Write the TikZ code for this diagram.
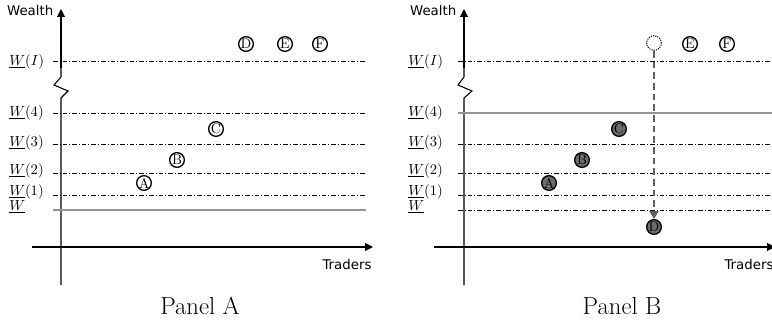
\documentclass[tikz,border=0pt]{standalone}
\usepackage{fontspec}
\newfontfamily\axisfont{DejaVu Sans}
\usetikzlibrary{arrows.meta}

\begin{document}
\begin{tikzpicture}[x=0.75pt, y=-0.75pt, >={Triangle[length=6pt,width=6pt]},
  axis/.style={line width=0.8pt},
  level/.style={line width=0.6pt, dash pattern=on 3.5pt off 1.5pt on 0.7pt off 1.5pt},
  floor/.style={line width=2.2pt, gray!85},
  trader/.style={circle, draw, line width=1pt, minimum size=11pt, inner sep=0pt,
    font=\fontsize{10.5}{12}\selectfont},
  broke/.style={trader, fill=gray!85!black},
  ghost/.style={trader, line width=0.8pt, dash pattern=on 0.8pt off 0.9pt},
  drop/.style={gray!75!black, line width=1pt, dash pattern=on 5pt off 3pt,
    -{Triangle[length=6pt,width=7pt]}},
  axlabel/.style={font=\axisfont},
  lvl/.style={anchor=west, inner sep=0pt, font=\fontsize{11}{13}\selectfont},
  caption/.style={font=\fontsize{18.5}{22}\selectfont}]

\useasboundingbox (0,0) rectangle (772,321);

% ---------- Panel A: axes ----------
\coordinate (aY0) at (61,285);
\coordinate (aY1) at (61,9);
\coordinate (aX0) at (32,247);
\coordinate (aX1) at (373,247);
\draw[axis] (aY0) -- (61,98) -- (68,91) -- (54,85) -- (61,77) -- ++(0,-10);
\draw[axis,->] (61,68) -- (aY1);
\draw[axis,->] (aX0) -- (aX1);
\node[axlabel, anchor=east] (aWealth) at (58,11) {Wealth};
\node[axlabel] (aTraders) at (347,265) {Traders};

% ---------- Panel A: wealth levels ----------
\foreach \y/\ly/\lab in {61/62/I, 113/113/4, 144/143/3, 173/171/2, 195/192/1}{
  \draw[level] (53,\y) -- (366,\y);
  \node[lvl] (aL\lab) at (9,\ly) {$\underline{W}(\lab)$};
}
\draw[floor] (53,210) -- (366,210);
\node[lvl] (aLmin) at (9,207) {$\underline{W}$};

% ---------- Panel A: traders ----------
\node[trader] (aA) at (144,183) {A};
\node[trader] (aB) at (177,160) {B};
\node[trader] (aC) at (216,129) {C};
\node[trader] (aD) at (246,44) {D};
\node[trader] (aE) at (285,44) {E};
\node[trader] (aF) at (320,44) {F};

% ---------- Panel B: axes ----------
\coordinate (bY0) at (464,285);
\coordinate (bY1) at (464,9);
\coordinate (bX0) at (434,247);
\coordinate (bX1) at (775,247);
\draw[axis] (bY0) -- (464,98) -- (472,91) -- (458,85) -- (464,77) -- ++(0,-10);
\draw[axis,->] (464,68) -- (bY1);
\draw[axis,->] (bX0) -- (bX1);
\node[axlabel, anchor=east] (bWealth) at (461,11) {Wealth};
\node[axlabel] (bTraders) at (749,265) {Traders};

% ---------- Panel B: wealth levels ----------
\foreach \y/\ly/\lab in {61/62/I, 144/143/3, 173/171/2, 195/192/1}{
  \draw[level] (458,\y) -- (772,\y);
  \node[lvl] (bL\lab) at (408,\ly) {$\underline{W}(\lab)$};
}
\draw[level] (458,210) -- (772,210);
\draw[floor] (458,113) -- (772,113);
\node[lvl] (bL4) at (408,113) {$\underline{W}(4)$};
\node[lvl] (bLmin) at (408,207) {$\underline{W}$};

% ---------- Panel B: traders ----------
\node[broke] (bA) at (549,183) {A};
\node[broke] (bB) at (582,160) {B};
\node[broke] (bC) at (619,129) {C};
\node[ghost] (bDold) at (654,43) {};
\node[broke] (bD) at (654,227) {D};
\node[trader] (bE) at (690,44) {E};
\node[trader] (bF) at (727,44) {F};
\draw[drop] (bDold) -- (bD);

% ---------- captions ----------
\node[caption] (capA) at (200,306) {Panel A};
\node[caption] (capB) at (622,306) {Panel B};

\end{tikzpicture}
\end{document}
